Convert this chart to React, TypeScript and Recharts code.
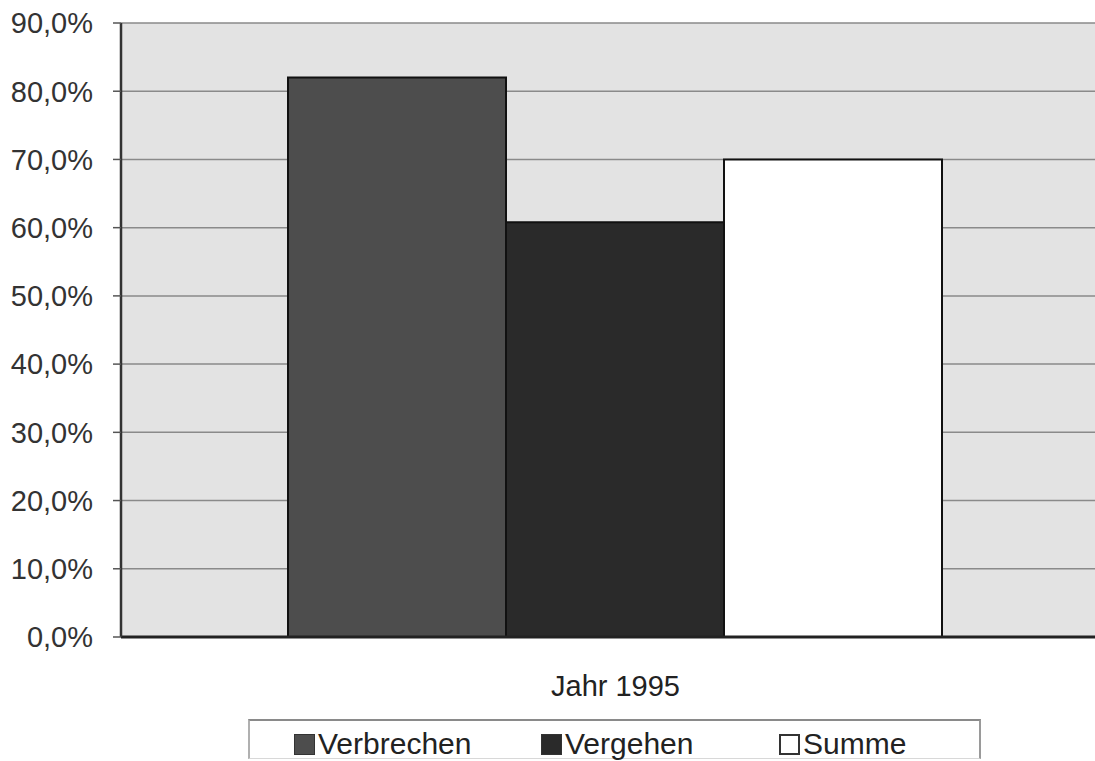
import React from 'react';
import { BarChart, Bar, XAxis, YAxis, CartesianGrid, Legend } from 'recharts';

const categories = ['Jahr 1995'];
const verbrechen = [82.0];
const vergehen = [60.8];
const summe = [70.0];
const yTicks = [0, 10, 20, 30, 40, 50, 60, 70, 80, 90];
const seriesNames = ['Verbrechen', 'Vergehen', 'Summe'];

const data = categories.map((c, i) => ({
  name: c,
  Verbrechen: verbrechen[i],
  Vergehen: vergehen[i],
  Summe: summe[i],
}));

const FONT = '"Liberation Sans", Arial, sans-serif';
const fills: Record<string, string> = {
  Verbrechen: '#4d4d4d',
  Vergehen: '#2a2a2a',
  Summe: '#ffffff',
};
const legendOffsets = [44, 291, 529];

const fmt = (v: number) => v.toFixed(1).replace('.', ',') + '%';

const LegendBox = () => (
  <div
    style={{
      position: 'relative',
      width: 733,
      height: 40,
      borderTop: '2px solid #8a8a8a',
      borderLeft: '2px solid #b0b0b0',
      borderRight: '2px solid #9a9a9a',
      borderBottom: '1px solid #d8d8d8',
      background: '#fff',
      fontFamily: FONT,
      fontSize: 30,
      color: '#222',
      boxSizing: 'border-box',
    }}
  >
    {seriesNames.map((n) => {
      const i = seriesNames.indexOf(n);
      return (
        <div
          key={n}
          style={{ position: 'absolute', left: legendOffsets[i], top: 8, display: 'flex', alignItems: 'flex-start' }}
        >
          <div
            style={{
              width: 21,
              height: 21,
              marginTop: 5,
              background: fills[n],
              border: n === 'Summe' ? '2px solid #333' : '1px solid #333',
              marginRight: 3,
              boxSizing: 'border-box',
            }}
          />
          <span style={{ lineHeight: '30px' }}>{n}</span>
        </div>
      );
    })}
  </div>
);

export default function App() {
  return (
    <div style={{ position: 'absolute', left: 0, top: 0, width: 1095, height: 761, overflow: 'hidden', background: '#fff' }}>
      <BarChart
        width={1110}
        height={761}
        data={data}
        margin={{ top: 23, right: 0, left: 0, bottom: 0 }}
        barCategoryGap={167}
        barGap={0}
      >
        <CartesianGrid vertical={false} fill="#e3e3e3" stroke="#8a8a8a" strokeWidth={1.5} />
        <XAxis
          dataKey="name"
          height={84}
          tickLine={false}
          axisLine={{ stroke: '#222', strokeWidth: 3 }}
          tickMargin={32}
          tick={{ fontFamily: FONT, fontSize: 29, fill: '#222' }}
        />
        <YAxis
          width={121}
          domain={[0, 90]}
          ticks={yTicks}
          tickFormatter={fmt}
          tickSize={8}
          tickMargin={20}
          interval={0}
          axisLine={{ stroke: '#333', strokeWidth: 2.5 }}
          tickLine={{ stroke: '#555', strokeWidth: 1.5 }}
          tick={{ fontFamily: FONT, fontSize: 29, fill: '#333' }}
        />
        <Legend
          content={() => <LegendBox />}
          wrapperStyle={{ position: 'absolute', left: 248, top: 719, width: 733 }}
        />
        {seriesNames.map((n) => (
          <Bar key={n} dataKey={n} fill={fills[n]} stroke="#111" strokeWidth={2} isAnimationActive={false} />
        ))}
      </BarChart>
    </div>
  );
}
